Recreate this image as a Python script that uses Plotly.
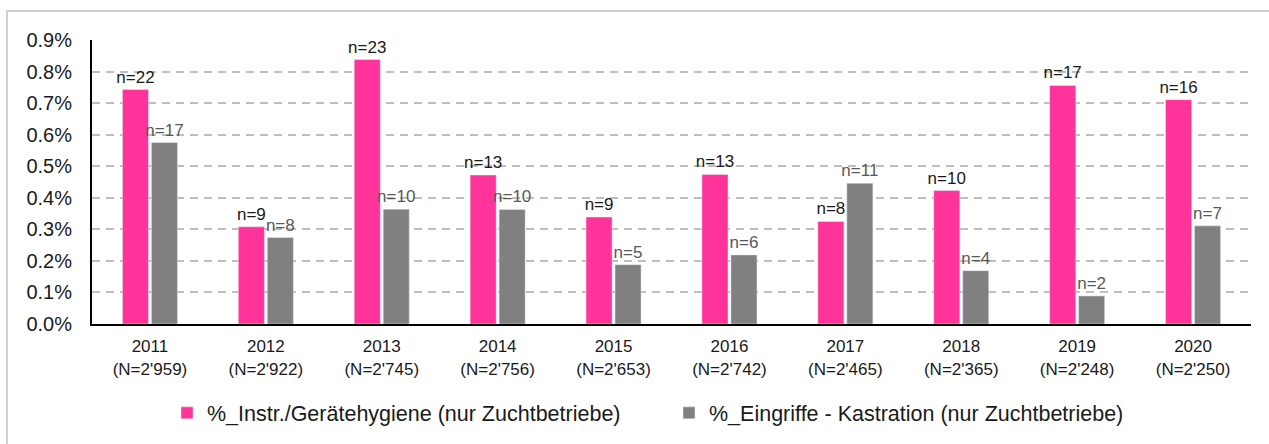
import plotly.graph_objects as go

years = ["2011", "2012", "2013", "2014", "2015", "2016", "2017", "2018", "2019", "2020"]
totals = ["2'959", "2'922", "2'745", "2'756", "2'653", "2'742", "2'465", "2'365", "2'248", "2'250"]
categories = [f"{y}<br>(N={t})" for y, t in zip(years, totals)]

hyg_pct = [0.00743, 0.00308, 0.00838, 0.00472, 0.00339, 0.00474, 0.00325, 0.00423, 0.00756, 0.00711]
hyg_n = [22, 9, 23, 13, 9, 13, 8, 10, 17, 16]
kas_pct = [0.00575, 0.00274, 0.00364, 0.00363, 0.00188, 0.00219, 0.00446, 0.00169, 0.00089, 0.00311]
kas_n = [17, 8, 10, 10, 5, 6, 11, 4, 2, 7]

name1 = "%_Instr./Gerätehygiene (nur Zuchtbetriebe)"
name2 = "%_Eingriffe - Kastration (nur Zuchtbetriebe)"

FONT = "Liberation Sans, Arial, sans-serif"

fig = go.Figure()
fig.add_trace(go.Bar(
    x=categories, y=hyg_pct, name=name1, marker_color="#FF3399",
    text=[f"n={v}" for v in hyg_n], textposition="outside", constraintext="none",
    textfont=dict(family=FONT, size=17, color="#1a1a1a"), cliponaxis=False,
))
fig.add_trace(go.Bar(
    x=categories, y=kas_pct, name=name2, marker_color="#808080",
    text=[f"n={v}" for v in kas_n], textposition="outside", constraintext="none",
    textfont=dict(family=FONT, size=17, color="#595959"), cliponaxis=False,
))

W, H = 1269, 444
ml, mr, mt, mb = 92, 18, 40, 120
pw, ph = W - ml - mr, H - mt - mb

fig.update_layout(
    width=W, height=H,
    margin=dict(l=ml, r=mr, t=mt, b=mb, pad=0, autoexpand=False),
    paper_bgcolor="white", plot_bgcolor="white",
    barmode="group", bargap=0.5, bargroupgap=0.1,
    font=dict(family=FONT, size=16, color="#1a1a1a"),
    showlegend=True,
    legend=dict(
        orientation="h", x=(167 - ml) / pw, xanchor="left", y=-0.313, yanchor="middle",
        font=dict(family=FONT, size=21.5, color="#1a1a1a"),
        entrywidth=457, entrywidthmode="pixels", traceorder="normal",
    ),
)
fig.update_yaxes(
    range=[0, 0.009], dtick=0.001, tickformat=".1%",
    showgrid=True, gridcolor="#BFBFBF", gridwidth=1.5, griddash="8px,6px",
    showline=True, linecolor="black", linewidth=2,
    ticks="", ticklabelstandoff=14, automargin=False,
    tickfont=dict(family=FONT, size=20, color="#1a1a1a"),
    zeroline=False, fixedrange=True,
)
fig.update_xaxes(
    showline=True, linecolor="black", linewidth=2, ticks="",
    showgrid=False, ticklabelstandoff=6, automargin=False,
    tickfont=dict(family=FONT, size=17, color="#1a1a1a"),
    fixedrange=True,
)

# outer chart border (partially visible, as in the reference)
fig.add_shape(
    type="rect", xref="paper", yref="paper",
    x0=(7 - ml) / pw, x1=(W + 20 - ml) / pw,
    y0=-(mb + 20) / ph, y1=1 + (mt - 11) / ph,
    line=dict(color="#D0D0D0", width=2), fillcolor="rgba(0,0,0,0)", layer="below",
)

fig.write_html(
    "out.html",
    config={"displayModeBar": False},
    post_script="document.body.style.margin='0';document.body.style.overflow='hidden';",
)
